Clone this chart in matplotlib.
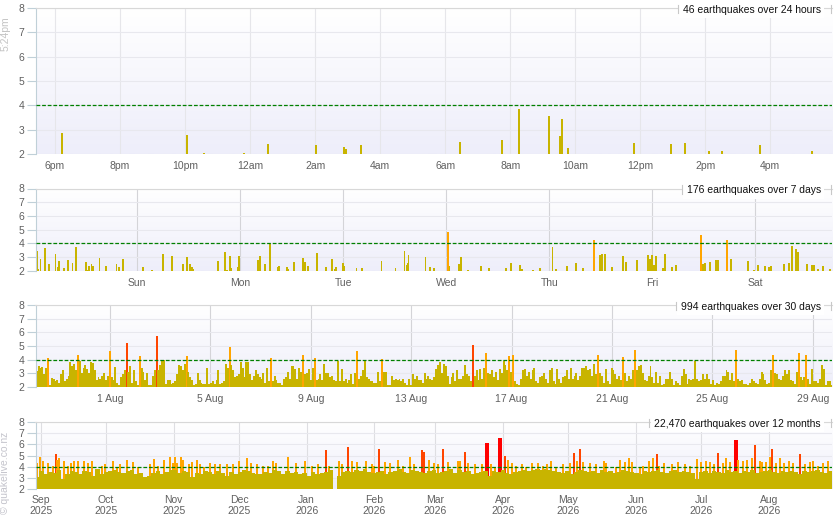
import numpy as np
import matplotlib
import matplotlib.pyplot as plt
import matplotlib.dates as mdates
from matplotlib.colors import LinearSegmentedColormap
from matplotlib.ticker import FuncFormatter
from matplotlib.lines import Line2D
from matplotlib.transforms import offset_copy, IdentityTransform
from datetime import datetime, timedelta

plt.rcParams['font.family'] = ['Liberation Sans', 'DejaVu Sans']

now = datetime(2026, 8, 29, 17, 24)

# --- last 24 hours: hours after 5:24pm, magnitude
day_hours = [0.806, 4.652, 5.175, 6.415, 7.145, 8.622, 9.492, 9.554, 10.006,
             13.062, 14.345, 14.877, 15.8, 16.138, 16.2, 16.375, 18.415,
             19.554, 19.985, 20.723, 21.114, 22.292, 23.883]
day_mags = [2.85, 2.78, 2.05, 2.05, 2.43, 2.35, 2.27, 2.2, 2.35,
            2.51, 2.59, 3.83, 3.58, 2.76, 3.42, 2.26, 2.45,
            2.43, 2.45, 2.14, 2.14, 2.39, 2.14]

# --- last 7 days: days after Sat 22 Aug 00:00, magnitude
week_days = [0.011, 0.024, 0.040, 0.060, 0.108, 0.141, 0.206, 0.225, 0.238, 0.287,
             0.326, 0.371, 0.404, 0.501, 0.514, 0.533, 0.556, 0.572, 0.634, 0.696,
             0.799, 0.819, 0.861, 1.059, 1.143, 1.250, 1.338, 1.444, 1.483, 1.513,
             1.532, 1.545, 1.785, 1.853, 1.872, 1.902, 1.915, 1.976, 1.989, 2.174,
             2.194, 2.242, 2.291, 2.369, 2.378, 2.456, 2.469, 2.524, 2.612, 2.625,
             2.660, 2.748, 2.836, 2.894, 2.923, 2.933, 3.001, 3.011, 3.128, 3.186,
             3.371, 3.507, 3.594, 3.614, 3.623, 3.633,
             3.799, 3.844, 3.883, 4.019, 4.032, 4.126, 4.146, 4.207, 4.334, 4.418,
             4.577, 4.626, 4.713, 4.733, 4.840, 4.908, 5.031, 5.063, 5.170, 5.258,
             5.326, 5.433, 5.491, 5.511, 5.540, 5.608, 5.715, 5.744, 5.851, 5.958,
             5.978, 5.997, 6.017, 6.036, 6.101, 6.124, 6.188, 6.231, 6.474, 6.493,
             6.513, 6.561, 6.620, 6.639, 6.727, 6.766, 6.931, 6.989, 7.028, 7.096,
             7.135, 7.155, 7.281, 7.330, 7.359, 7.398, 7.411, 7.505, 7.554, 7.573,
             7.612, 7.661, 7.722]
week_mags = [3.6, 3.45, 2.1, 2.86, 3.67, 2.5, 3.23, 2.27, 2.7, 2.2,
             2.78, 2.56, 3.74, 2.64, 2.05, 2.34, 2.5, 2.34, 2.93, 2.34,
             2.5, 2.27, 2.86, 2.27, 2.05, 3.23, 3.08, 2.5, 3.0, 2.5,
             2.27, 2.12, 2.7, 3.37, 2.05, 3.08, 2.2, 2.27, 3.08, 2.78,
             3.08, 2.5, 3.96, 2.27, 2.34, 2.27, 2.12, 2.64, 2.93, 2.64,
             2.34, 3.3, 2.27, 2.86, 2.12, 2.27, 2.56, 2.34, 2.2, 2.2,
             2.7, 2.2, 3.45, 2.42, 2.56, 3.15,
             3.0, 2.27, 2.2, 4.84, 2.34, 2.5, 3.0, 2.05, 2.34, 2.2,
             2.2, 2.56, 2.42, 2.12, 2.05, 2.2, 3.74, 2.12, 2.34, 2.56,
             2.2, 4.25, 3.15, 3.23, 3.23, 2.27, 3.08, 2.64, 2.78, 3.15,
             2.86, 3.15, 2.42, 3.08, 2.2, 3.23, 2.27, 2.42, 4.62, 2.5,
             2.56, 2.64, 2.78, 2.78, 4.25, 2.86, 2.7, 2.05, 2.42, 2.34,
             2.27, 2.34, 2.5, 2.56, 3.81, 3.6, 3.37, 2.5, 2.42, 2.42,
             2.12, 2.34, 2.12]

# --- last 30 days: magnitudes in three runs of time bins (days from 1 Aug)
month_span_a = (-2.92, 6.705)
month_mags_a = [3.15, 3.5, 3.4, 3.45, 2.95, 3.35, 4.1, 2.1, 2.65, 2.6,
                2.4, 2.5, 2.3, 2.9, 3.2, 2.4, 2.6, 2.8, 3.8, 3.5,
                3.7, 3.2, 4.3, 3.9, 3.0, 3.4, 3.6, 3.3, 3.0, 3.8,
                3.75, 3.2, 2.5, 2.7, 2.6, 2.8, 3.0, 2.5, 2.8, 4.65,
                2.7, 2.5, 3.45, 2.3, 2.1, 2.7, 2.9, 3.2, 5.25, 3.1,
                3.5, 2.3, 3.2, 2.4, 2.1, 4.25, 3.4, 3.1, 2.5, 3.0,
                2.1, 2.1, 2.8, 3.2, 5.75, 3.2, 3.6, 3.95, 3.95, 2.2,
                2.5, 2.5, 2.2, 2.3, 2.4, 2.9, 3.6, 3.5, 3.2, 3.7,
                4.25, 3.1, 2.7, 2.5, 2.1, 2.2, 3.0, 2.5, 2.3, 2.2,
                2.2, 3.4, 2.2, 2.3, 2.4, 2.2, 2.5, 3.2, 2.2, 2.3,
                2.4, 3.7, 3.4, 4.95, 3.6, 3.2, 2.7, 2.8, 2.9, 3.8,
                3.35, 2.7, 3.8, 3.8, 2.9, 2.5, 2.8, 3.2, 2.9, 2.7,
                2.6, 3.0, 2.3, 3.4, 2.4, 4.15, 2.4, 2.8, 2.5, 2.3]
month_span_b = (6.773, 17.677)
month_mags_b = [2.3, 2.1, 2.6, 2.75, 3.1, 2.6, 3.5, 3.5, 3.3, 2.6,
                3.4, 3.1, 4.35, 2.9, 3.0, 3.3, 2.5, 3.4, 4.1, 2.5,
                2.6, 2.9, 2.5, 3.7, 3.0, 3.0, 2.7, 2.8, 2.5, 2.4,
                3.9, 2.4, 3.3, 2.4, 2.6, 2.3, 2.5, 2.9, 2.2, 3.0,
                4.6, 2.6, 2.8, 3.2, 3.9, 2.7, 2.6, 2.4, 2.4, 2.3,
                2.3, 3.1, 2.4, 4.05, 3.1, 3.1, 2.1, 2.1, 2.8, 2.5,
                2.6, 2.5, 2.6, 2.4, 2.6, 2.3, 2.1, 2.6, 2.1, 2.9,
                2.6, 2.8, 2.5, 2.5, 2.3, 3.0, 2.6, 2.8, 2.6, 2.5,
                2.7, 3.3, 3.6, 3.8, 3.0, 3.7, 3.5, 2.8, 2.2, 2.7,
                3.0, 2.4, 3.2, 2.6, 2.6, 2.8, 3.6, 2.9, 2.8, 2.4,
                5.1, 2.8, 3.2, 2.5, 3.3, 2.6, 3.4, 4.5, 3.0, 2.9,
                3.2, 2.7, 3.1, 2.5, 3.3, 3.0, 3.9, 3.6, 3.2, 4.25,
                3.1, 4.3, 2.4, 2.2, 2.1, 2.6, 3.2, 3.3, 2.8, 3.1,
                2.6, 3.2, 3.4, 2.4, 2.3, 2.7, 2.8, 3.0, 2.6, 2.3,
                3.2, 3.4, 2.4]
month_span_c = (17.73, 28.753)
month_mags_c = [2.2, 3.3, 2.6, 2.3, 2.7, 2.8, 3.2, 2.6, 3.4, 2.6,
                2.8, 3.0, 2.5, 2.8, 3.4, 3.4, 3.5, 3.2, 3.3, 2.8,
                3.7, 2.9, 4.3, 3.0, 2.8, 2.3, 3.3, 2.4, 2.2, 3.4,
                3.2, 2.9, 2.6, 2.8, 2.5, 4.2, 3.0, 2.4, 2.8, 2.6,
                3.2, 4.7, 3.2, 3.5, 3.6, 3.0, 2.5, 2.4, 2.8, 3.5,
                2.7, 2.3, 3.1, 2.3, 2.8, 2.1, 2.2, 2.6, 2.6, 3.1,
                2.6, 2.1, 2.4, 2.3, 2.1, 2.8, 3.3, 2.9, 2.2, 2.6,
                2.5, 2.6, 3.9, 2.6, 2.4, 2.5, 2.9, 2.6, 2.9, 2.6,
                2.2, 2.5, 2.1, 2.3, 2.2, 2.4, 2.8, 2.8, 3.2, 3.1,
                2.5, 3.0, 2.4, 4.7, 2.6, 2.4, 2.5, 2.2, 2.2, 2.1,
                2.3, 2.6, 2.4, 2.3, 2.2, 2.6, 3.1, 2.9, 2.5, 2.2,
                2.3, 3.2, 4.3, 3.0, 2.9, 2.6, 2.5, 2.8, 3.2, 2.9,
                3.2, 2.5, 2.4, 2.2, 3.1, 4.5, 2.7, 2.5, 2.7, 4.3,
                2.6, 2.2, 3.3, 2.4, 2.4, 2.3, 2.6, 3.6, 3.3, 2.1,
                2.4, 2.4, 2.1]

# --- last 12 months: typical level per 2-day bin (days from 1 Sep 2025)
year_span = (-2.6, 361.2)
year_level_a = [3.1, 3.6, 3.3, 3.5, 3.4, 3.7, 2.9, 3.3, 3.6, 3.5,
                3.3, 3.6, 3.5, 3.2, 3.8, 3.3, 3.5, 3.6, 3.7, 3.5,
                3.4, 3.6, 3.7, 3.3, 3.4, 3.1, 3.2, 3.4, 3.6, 3.3,
                3.5, 3.7, 3.8, 3.4, 3.6, 3.5, 3.1, 3.4, 3.3, 3.6,
                3.5, 3.3, 3.6, 3.4, 3.2, 3.5, 3.3, 3.5, 3.7, 3.6,
                3.4, 3.3, 3.3, 3.5, 3.4, 3.7, 3.6]
year_level_b = [3.3, 3.6, 3.4, 3.5, 3.3, 3.4, 3.2, 3.5, 3.3, 3.4,
                3.5, 3.7, 2.0, 3.2, 3.5, 3.6, 3.5, 3.7, 3.6, 3.8,
                3.5, 3.4, 3.5, 3.6, 3.3, 3.5, 3.6, 3.8, 3.5, 3.4,
                3.7, 3.6, 3.5, 3.4, 3.6, 3.7, 3.4, 3.5, 3.6, 3.8,
                3.4, 3.7, 3.5, 3.6, 3.3, 3.4, 3.5, 3.6, 3.2, 3.6,
                3.5, 3.7, 3.4, 3.3, 3.5, 3.6, 3.7, 3.6, 3.7, 3.8,
                3.7, 3.8, 3.7, 3.6]
year_level_c = [3.5, 3.4, 3.6, 3.3, 3.5, 3.7, 3.6, 3.5, 3.6, 3.4,
                3.7, 3.5, 3.6, 3.4, 3.5, 3.7, 3.6, 3.5, 3.4, 3.3,
                3.6, 3.5, 3.6, 3.7, 3.5, 3.4, 3.6, 3.7, 3.5, 3.6,
                3.5, 3.4, 2.9, 3.5, 3.6, 3.4, 3.6, 3.5, 3.4, 3.7,
                3.5, 3.6, 3.4, 3.6, 3.5, 3.7, 3.4, 3.5, 3.6, 3.7,
                3.5, 3.4, 3.6, 3.5, 3.6, 3.5, 3.3, 3.6, 3.5, 3.6,
                3.7, 3.5, 3.4, 3.6]

# --- last 12 months: M4+ events (days from 1 Sep 2025, magnitude)
big_days = [-1.6, -0.3, 1.2, 3.2, 5.5, 6.9, 7.6, 8.3, 10.6, 12.7,
            13.9, 15.3, 17.2, 19.9, 21.6, 23.7, 28.1, 29.4, 33.0, 35.1,
            36.4, 39.4, 42.5, 44.8, 50.1, 52.0, 53.8, 56.6, 59.3, 60.6,
            61.7, 62.7, 64.2, 65.1, 67.9, 69.4, 71.6, 73.1, 74.9, 77.7,
            80.0, 82.2, 85.6, 88.1, 90.8, 94.8, 96.3, 99.2, 102.1, 104.1,
            106.4, 107.9,
            113.3, 117.0, 121.2, 124.3, 127.1, 130.7, 132.2, 137.0, 138.1, 140.8,
            142.9, 145.1, 149.2, 151.8, 153.0, 155.2, 157.9, 160.2, 164.0, 166.3,
            169.3, 171.4, 174.8, 175.7, 178.1, 180.3, 182.4, 184.6, 187.0, 191.3,
            192.5, 194.5, 196.2, 199.2, 202.3, 204.6, 206.6, 208.4, 210.8, 213.0,
            214.2, 216.1, 217.9, 220.7, 222.5, 225.5, 228.3, 230.6, 232.1, 234.1,
            236.5, 239.6, 242.7, 244.5, 246.0, 247.2, 248.8, 251.8, 254.9, 258.3,
            259.4, 263.8, 265.6, 268.0, 269.9, 271.1, 274.8, 276.3, 279.0, 280.9,
            282.6, 283.6, 286.1, 289.4, 292.5, 295.4, 297.7, 301.1, 302.9, 305.0,
            306.9, 308.9, 310.6, 313.0, 314.5, 316.1, 318.8, 320.0, 322.2, 324.0,
            326.4, 327.7, 329.8, 331.0, 332.8, 334.4, 335.6, 337.4, 339.0, 341.1,
            343.3, 345.1, 348.4, 350.5, 352.8, 354.3, 356.6, 358.9, 361.3]
big_mags = [4.3, 4.9, 4.5, 4.3, 4.1, 5.1, 4.6, 4.8, 4.5, 4.1,
            4.3, 4.5, 4.5, 4.5, 4.3, 4.5, 4.1, 4.2, 4.5, 4.0,
            4.2, 4.6, 4.4, 4.0, 4.2, 4.7, 4.1, 4.6, 4.9, 4.3,
            4.9, 4.3, 4.9, 4.6, 4.2, 4.4, 4.6, 4.2, 4.0, 4.3,
            4.2, 4.2, 4.2, 4.2, 4.5, 4.8, 4.3, 4.2, 4.1, 4.1,
            4.5, 4.3,
            4.9, 4.3, 4.5, 4.1, 4.2, 5.5, 4.1, 4.5, 4.2, 5.8,
            4.5, 4.4, 4.5, 4.2, 4.1, 5.6, 4.4, 4.3, 4.6, 4.1,
            4.9, 4.2, 5.5, 5.3, 4.6, 4.3, 4.2, 5.6, 4.4, 4.5,
            4.5, 5.3, 4.3, 4.2, 4.2, 6.1, 4.2, 4.0, 6.6, 5.0,
            4.6, 4.3, 4.1, 4.2, 4.0, 4.3, 4.3, 4.1, 4.2, 4.5,
            4.0, 4.2, 4.3, 5.2, 4.5, 5.6, 4.4, 4.3, 4.2, 4.5,
            4.3, 4.0, 4.6, 4.4, 4.8, 4.4, 4.0, 4.1, 4.5, 4.8,
            5.1, 4.1, 4.3, 4.2, 4.4, 4.2, 4.1, 4.7, 4.4, 4.5,
            4.4, 4.2, 5.2, 4.3, 4.8, 4.4, 6.4, 4.6, 4.5, 4.6,
            4.8, 5.9, 4.5, 4.4, 4.4, 4.9, 5.6, 4.3, 4.8, 4.3,
            4.5, 4.3, 5.1, 4.2, 4.4, 4.5, 4.1, 4.3, 4.5]

titles = ['46 earthquakes over 24 hours', '176 earthquakes over 7 days',
          '994 earthquakes over 30 days', '22,470 earthquakes over 12 months']


def mag_colour(m):
    if m >= 6:
        return '#ff0000'
    if m >= 5:
        return '#ff4500'
    if m >= 4:
        return '#ffa500'
    return '#c8b400'


bg = LinearSegmentedColormap.from_list('bg', ['#ffffff', '#eeeefa'])
W, H = 835, 530
fig = plt.figure(figsize=(W / 100, H / 100), dpi=100)


def make_axes(top, bottom, vgrid):
    ax = fig.add_axes([35.5 / W, 1 - bottom / H, 796.5 / W, (bottom - top) / H])
    ax.imshow(np.linspace(0, 1, 64).reshape(-1, 1), cmap=bg, aspect='auto',
              extent=[0, 1, 0, 1], transform=ax.transAxes, zorder=0)
    ax.set_ylim(2, 8)
    ax.set_yticks(range(2, 9))
    ax.set_axisbelow(True)
    ax.grid(axis='y', color='#e8e8ee', lw=0.8)
    ax.grid(axis='x', color=vgrid, lw=0.8)
    ax.axhline(4, color='#008000', lw=0.9, ls=(0, (3, 1.5)), zorder=3)
    for s in ['right', 'bottom']:
        ax.spines[s].set_visible(False)
    ax.spines['left'].set_color('#c0d0d8')
    ax.spines['top'].set_color('#d8d8d8')
    ax.tick_params(axis='y', length=6.5, color='#c0d0d8', labelcolor='#606060',
                   labelsize=7.5, pad=1.5)
    ax.tick_params(axis='x', length=0, labelcolor='#606060', labelsize=7.5, pad=5)
    return ax


def hour_label(x, pos):
    h = mdates.num2date(x).hour
    return f"{h % 12 or 12}{'am' if h < 12 else 'pm'}"


# panel 1: 24 hours
ax1 = make_axes(8, 154, '#e6e6ea')
start1 = mdates.date2num(now - timedelta(hours=24))
x1 = start1 + np.array(day_hours) / 24
ax1.bar(x1, np.array(day_mags) - 2, bottom=2, width=0.0026,
        color=[mag_colour(m) for m in day_mags], lw=0, zorder=2)
ax1.xaxis.set_major_locator(mdates.HourLocator(byhour=range(0, 24, 2)))
ax1.xaxis.set_major_formatter(FuncFormatter(hour_label))
ax1.set_xlim(start1, start1 + 24.5 / 24)

# panel 2: 7 days
ax2 = make_axes(188.5, 270.7, '#d4d4d8')
base2 = mdates.date2num(datetime(2026, 8, 22))
x2 = base2 + np.array(week_days)
ax2.bar(x2, np.array(week_mags) - 2, bottom=2, width=0.018,
        color=[mag_colour(m) for m in week_mags], lw=0, zorder=2)
ax2.xaxis.set_major_locator(mdates.DayLocator())
ax2.xaxis.set_major_formatter(FuncFormatter(lambda x, p: f"{mdates.num2date(x):%a}"))
ax2.set_xlim(base2 + 0.012, base2 + 7.745)

# panel 3: 30 days
ax3 = make_axes(305.3, 386.7, '#d4d4d8')
base3 = mdates.date2num(datetime(2026, 8, 1))
for span, mags in [(month_span_a, month_mags_a), (month_span_b, month_mags_b),
                   (month_span_c, month_mags_c)]:
    x3 = base3 + np.linspace(span[0], span[1], len(mags))
    ax3.bar(x3, np.array(mags) - 2, bottom=2, width=0.078,
            color=[mag_colour(m) for m in mags], lw=0, zorder=2)
ax3.xaxis.set_major_locator(mdates.DayLocator(bymonthday=[1, 5, 9, 13, 17, 21, 25, 29]))
ax3.xaxis.set_major_formatter(FuncFormatter(
    lambda x, p: f"{mdates.num2date(x).day} {mdates.num2date(x):%b}"))
ax3.set_xlim(base3 - 2.968, base3 + 28.765)

# panel 4: 12 months
ax4 = make_axes(422, 489, '#dedee2')
base4 = mdates.date2num(datetime(2025, 9, 1))
levels = np.array(year_level_a + year_level_b + year_level_c)
x4 = base4 + np.linspace(year_span[0], year_span[1], len(levels))
bm = np.array(big_mags)
bx = base4 + np.array(big_days)
ax4.bar(x4, levels - 2, bottom=2, width=2.08, align='edge',
        color='#c8b400', lw=0, zorder=2)
ax4.bar(bx, bm - 2, bottom=2, width=np.where(bm >= 6, 1.7, 0.9),
        color=[mag_colour(m) for m in bm], lw=0, zorder=1.9)
# tips above the typical level stay visible
ax4.bar(bx, bm - 3.7, bottom=3.7, width=np.where(bm >= 6, 1.7, 0.9),
        color=[mag_colour(m) for m in bm], lw=0, zorder=2.2)
ax4.xaxis.set_major_locator(mdates.MonthLocator())
ax4.xaxis.set_major_formatter(FuncFormatter(
    lambda x, p: f"{mdates.num2date(x):%b}\n{mdates.num2date(x).year}"))
ax4.tick_params(axis='x', pad=4)
for lab in ax4.get_xticklabels():
    lab.set_linespacing(1.15)
ax4.set_xlim(base4 - 2.39, base4 + 363.0)

# title boxes at top right of each panel
fig.canvas.draw()
for ax, title in zip([ax1, ax2, ax3, ax4], titles):
    tr = offset_copy(ax.transAxes, fig=fig, x=-11, y=-1.7, units='dots')
    t = ax.text(1, 1, title, transform=tr, ha='right', va='center',
                fontsize=7.5, color='#111111', zorder=5,
                bbox=dict(facecolor='white', edgecolor='none', pad=2.5))
    fig.canvas.draw()
    bb = t.get_window_extent()
    axbb = ax.get_window_extent()
    ytop = axbb.y1
    for xx in [bb.x0 - 5, axbb.x1 - 1.5]:
        fig.add_artist(Line2D([xx, xx], [ytop + 3.5, ytop - 5], transform=IdentityTransform(),
                              color='#c8c8c8', lw=0.8))

fig.text(6 / W, 1 - 33.5 / H, '5:24pm', rotation=90, color='#c4c4c4',
         fontsize=7.5, ha='center', va='center')
fig.text(5 / W, 1 - 472.5 / H, '\u00a9 quakelive.co.nz', rotation=90, color='#c4c4cc',
         fontsize=7.5, ha='center', va='center')

fig.savefig('out.png', dpi=100)
